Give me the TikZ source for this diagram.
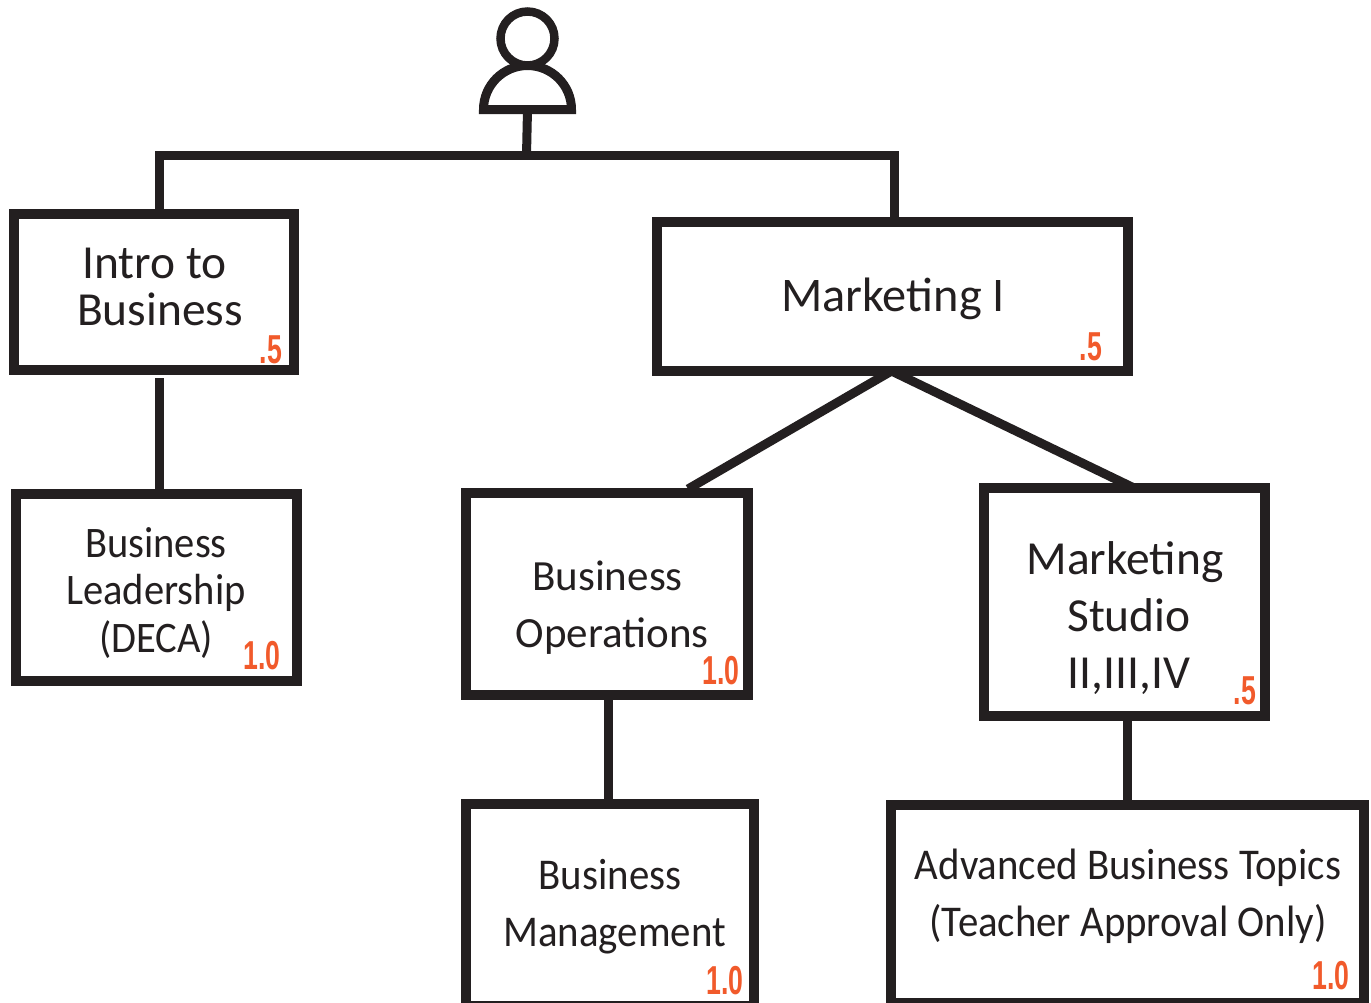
\documentclass[tikz,border=0pt]{standalone}
\usepackage{fontspec}
\setmainfont{Carlito}
\newfontfamily\narrowfont[FakeStretch=0.93]{Carlito}
\newfontfamily\badgefont[FakeStretch=0.66]{Liberation Sans}
\definecolor{ink}{HTML}{231F20}
\definecolor{credit}{HTML}{F15A2B}
\tikzset{
	course/.style 2 args={draw=ink, line width=.19cm, minimum width=#1cm, minimum height=#2cm, inner sep=0pt},
	title/.style 2 args={text=ink, align=center, inner sep=0pt, font=\fontsize{#1}{#2}\selectfont},
	narrowtitle/.style 2 args={text=ink, align=center, inner sep=0pt, font=\narrowfont\fontsize{#1}{#2}\selectfont},
	badge/.style={text=credit, inner sep=0pt, font=\badgefont\bfseries\fontsize{23}{23}\selectfont},
	link/.style={draw=ink, line width=.18cm, line join=miter},
}

\begin{document}
\begin{tikzpicture}[x=.02cm, y=-.02cm]
	
	\useasboundingbox (0,0) rectangle (1371,1002);
	
	% boxes
	\node[course={5.6}{3.12}] (intro) at (154,292) {};
	\node[course={5.62}{3.74}] (leadership) at (156.5,587.5) {};
	\node[course={9.42}{2.98}] (marketing) at (892.5,296.5) {};
	\node[course={5.64}{4.04}] (operations) at (607,594) {};
	\node[course={5.62}{4.56}] (studio) at (1124.5,602) {};
	\node[course={5.76}{4.04}] (management) at (610,905) {};
	\node[course={9.46}{3.96}] (advanced) at (1127.5,904) {};
	
	% person
	\node[draw=ink, line width=.17cm, circle, minimum size=1.08cm, inner sep=0pt] (head) at (527.5,38.5) {};
	\draw[link] (483.5,109.5) arc[start angle=180, end angle=0, radius=.88cm] -- cycle;
	\coordinate (shoulders) at (527.5,109.5);
	
	% connectors
	\coordinate (trunk) at (526.5,155);
	\coordinate (busl) at (159,155);
	\coordinate (busr) at (894,155);
	\coordinate (apex) at (891.5,371);
	\coordinate (introstem) at (159,378);
	\draw[link] (shoulders) -- (trunk);
	\draw[link] (intro.north -| busl) -- (busl) -- (busr) -- (marketing.north -| busr);
	\draw[link] (introstem) -- (leadership.north -| introstem);
	\draw[link] (apex) -- (688,489);
	\draw[link] (apex) -- (1132,487);
	\draw[link] (608,695) -- (608,804);
	\draw[link] (1127,716) -- (1127,805);
	
	% course names
	\node[title={27}{26.8}] (intronm) at (157.5,287) {Intro to\hspace*{.12cm}\\\hspace*{.1cm}Business};
	\node[narrowtitle={24.8}{27.3}] (leadershipnm) at (156,593) {Business\\Leadership\\(DECA)};
	\node[title={27.5}{27}] (marketingnm) at (893,299) {Marketing I};
	\node[title={24.5}{32.4}] (operationsnm) at (612,608) {Business\hspace*{.18cm}\\Operations};
	\node[title={27}{32.4}] (studionm) at (1129,618) {Marketing\hspace*{.16cm}\\Studio\\II,III,IV};
	\node[narrowtitle={25}{32.4}] (managementnm) at (614.5,906.5) {Business\hspace*{.18cm}\\Management};
	\node[narrowtitle={25}{32.4}] (advancednm) at (1128,896) {Advanced Business Topics\\(Teacher Approval Only)};
	
	% credits
	\node[badge] (introcr) at (271,350) {.5};
	\node[badge] (leadershipcr) at (262,656) {1.0};
	\node[badge] (marketingcr) at (1091,347) {.5};
	\node[badge] (operationscr) at (721,671) {1.0};
	\node[badge] (studiocr) at (1245,691) {.5};
	\node[badge] (managementcr) at (725,981) {1.0};
	\node[badge] (advancedcr) at (1331,976) {1.0};
	
\end{tikzpicture}
\end{document}
